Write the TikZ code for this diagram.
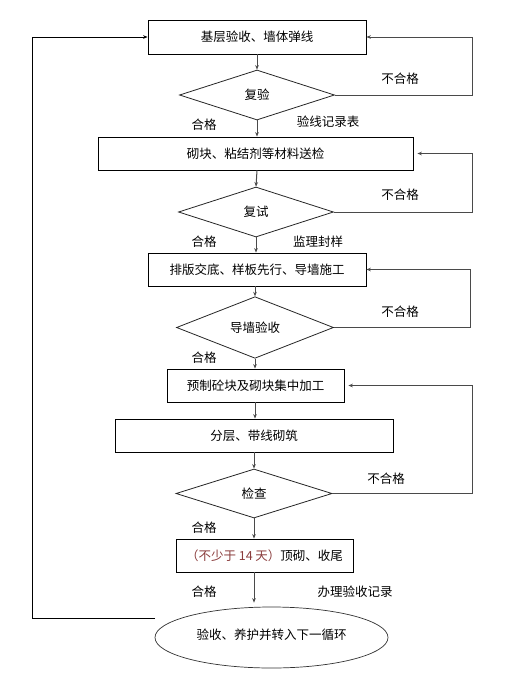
\documentclass[tikz,border=0pt]{standalone}
\usepackage{fontspec}
\setmainfont{Noto Sans CJK SC}
\usetikzlibrary{shapes.geometric,arrows.meta}
\definecolor{lnc}{HTML}{4A4A4A}
\definecolor{redtxt}{HTML}{8A3C3C}
\tikzset{
  box/.style={draw=black,line width=0.8pt,minimum height=33pt,inner sep=0pt,font=\fontsize{12.5}{14}\selectfont},
  dia/.style={draw=black!85,line width=0.8pt,diamond,inner sep=0pt,font=\fontsize{12.5}{14}\selectfont},
  conn/.style={draw=lnc,line width=1pt,-{Stealth[length=4.5pt,width=3.6pt]}},
  loopl/.style={draw=lnc,line width=1pt},
  lbl/.style={font=\fontsize{12.5}{14}\selectfont,inner sep=0pt}
}
\begin{document}
\begin{tikzpicture}[x=1pt,y=-1pt]
\useasboundingbox[fill=white] (0,0) rectangle (507,678);
% nodes
\node[box,minimum width=218pt,minimum height=34pt] (b1) at (257,37) {基层验收、墙体弹线};
\node[dia,minimum width=155pt,minimum height=50pt] (d1) at (257,95) {\raisebox{-1pt}{复验}};
\node[box,minimum width=315pt] (b2) at (255.5,153.5) {砌块、粘结剂等材料送检};
\node[dia,minimum width=155pt,minimum height=50pt] (d2) at (256,212) {复试};
\node[box,minimum width=218pt] (b3) at (257,269.5) {排版交底、样板先行、导墙施工\hspace{18pt}};
\node[dia,minimum width=157pt,minimum height=49pt] (d3) at (255,327.5) {\raisebox{-2pt}{导墙验收}};
\node[box,minimum width=177pt] (b4) at (255.5,385.5) {预制砼块及砌块集中加工\hspace{15pt}};
\node[box,minimum width=278pt] (b5) at (254,435.5) {分层、带线砌筑};
\node[dia,minimum width=156pt,minimum height=49pt] (d4) at (254,493.5) {\raisebox{-2pt}{检查}};
\node[box,minimum width=177pt] (b6) at (264.5,555.5) {{\color{redtxt}（不少于 14 天）}顶砌、收尾};
\node[draw=black!80,line width=0.7pt,ellipse,minimum width=233pt,minimum height=61pt,inner sep=0pt,font=\fontsize{12.5}{14}\selectfont] (e) at (271.5,637.5) {\raisebox{7pt}{验收、养护并转入下一循环}};
% labels
\node[lbl] (n1) at (400,79) {不合格};
\node[lbl] (n2) at (400,195) {不合格};
\node[lbl] (n3) at (400,312) {不合格};
\node[lbl] (n4) at (386,479) {不合格};
\node[lbl] (p1) at (204,125) {合格};
\node[lbl] (p2) at (204,242) {合格};
\node[lbl] (p3) at (204,358) {合格};
\node[lbl] (p4) at (204,528) {合格};
\node[lbl] (p5) at (204,592) {合格};
\node[lbl] (r1) at (328,122) {验线记录表};
\node[lbl] (r2) at (318,242) {监理封样};
\node[lbl] (r3) at (355,592) {办理验收记录};
% main flow
\draw[conn] (b1.south) -- (d1.north);
\draw[conn] (d1.south) -- (d1.south |- b2.north);
\draw[conn] (d1.south |- b2.south) -- (d2.north);
\draw[conn] (d2.south) -- (d2.south |- b3.north);
\draw[conn] (d3.north |- b3.south) -- (d3.north);
\draw[conn] (d3.south) -- (d3.south |- b4.north);
\draw[conn] (d3.south |- b4.south) -- (d3.south |- b5.north);
\draw[conn] (d4.north |- b5.south) -- (d4.north);
\draw[conn] (d4.south) -- (d4.south |- b6.north);
\draw[conn,shorten >=4pt] (d4.south |- b6.south) -- (d4.south |- e.north);
% return loops
\coordinate (k1) at (472,95);
\coordinate (k2) at (472,212);
\coordinate (k3) at (470,327.5);
\coordinate (k4) at (472,493.5);
\draw[conn] (d1.east) -- (k1) |- (b1.east);
\draw[conn,shorten >=4pt] (d2.east) -- (k2) |- (b2.east);
\draw[conn] (d3.east) -- (k3) |- (b3.east);
\draw[conn,shorten >=4pt] (d4.east) -- (k4) |- (b4.east);
% left loop
\coordinate (l1) at (155,618);
\coordinate (l0) at (32,618);
\draw[conn,draw=black] (l1) -- (l0) |- (b1.west);
\end{tikzpicture}
\end{document}
